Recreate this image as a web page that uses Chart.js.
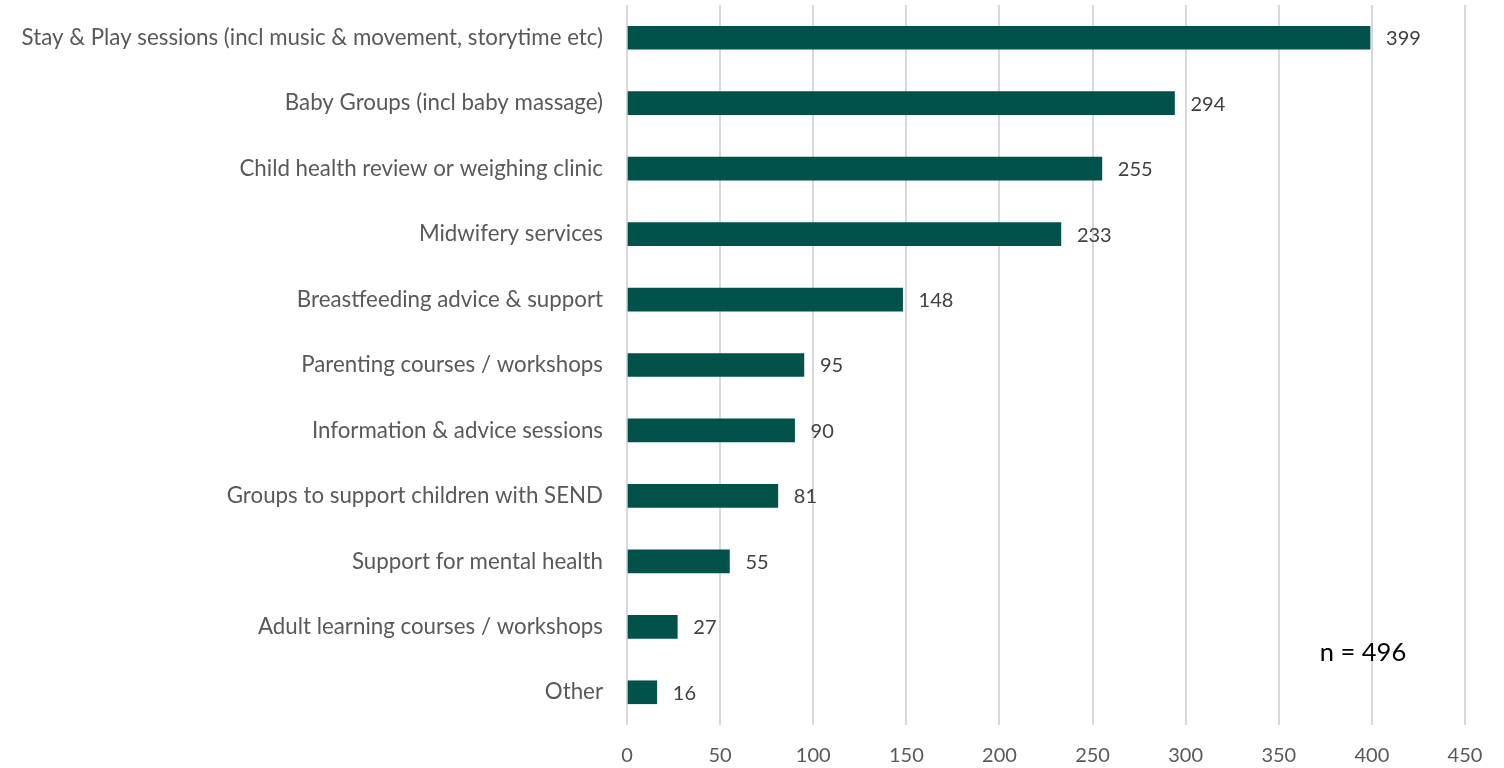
<!DOCTYPE html>
<html>
<head>
<meta charset="utf-8">
<script src="https://cdn.jsdelivr.net/npm/chart.js@4/dist/chart.umd.min.js"></script>
<style>
  html, body { margin: 0; padding: 0; background: #fff; }
  #wrap { width: 1504px; height: 768px; position: relative; }
</style>
</head>
<body>
<div id="wrap"><canvas id="mainChart" width="1504" height="768"></canvas></div>
<script>
// Services used
const categories = [
    'Stay & Play sessions (incl music & movement, storytime etc)',
    'Baby Groups (incl baby massage)',
    'Child health review or weighing clinic',
    'Midwifery services',
    'Breastfeeding advice & support',
    'Parenting courses / workshops',
    'Information & advice sessions',
    'Groups to support children with SEND',
    'Support for mental health',
    'Adult learning courses / workshops',
    'Other'
];
const counts = [399, 294, 255, 233, 148, 95, 90, 81, 55, 27, 16];
const xTicks = [0, 50, 100, 150, 200, 250, 300, 350, 400, 450];
const sampleNote = 'n = 496';

const FONT = "Lato, 'Open Sans', sans-serif";

// value labels at the end of each bar, plus the sample size note
const barLabels = {
    id: 'barLabels',
    afterDatasetsDraw(chart) {
        const { ctx, scales: { x, y } } = chart;
        const meta = chart.getDatasetMeta(0);
        ctx.save();
        ctx.font = '20px ' + FONT;
        ctx.fillStyle = '#404040';
        ctx.textAlign = 'left';
        ctx.textBaseline = 'middle';
        meta.data.forEach((bar, i) => {
            ctx.fillText(String(counts[i]), bar.x + 16, bar.y + 1);
        });
        ctx.font = '25.5px ' + FONT;
        ctx.fillStyle = '#000';
        ctx.fillText(sampleNote, x.getPixelForValue(372), y.getPixelForValue(9.4));
        ctx.restore();
    }
};

new Chart(document.getElementById('mainChart').getContext('2d'), {
    type: 'bar',
    data: {
        labels: categories,
        datasets: [{
            data: counts,
            backgroundColor: '#00524A',
            borderWidth: 0,
            barThickness: 23
        }]
    },
    options: {
        indexAxis: 'y',
        responsive: false,
        animation: false,
        layout: { padding: { top: 5, right: 39, bottom: 0, left: 0 } },
        plugins: { legend: { display: false }, tooltip: { enabled: false } },
        scales: {
            x: {
                min: 0, max: 450,
                afterBuildTicks: (s) => { s.ticks = xTicks.map(v => ({ value: v })); },
                grid: { color: '#d9d9d9', lineWidth: 2, drawTicks: false },
                border: { display: false },
                ticks: { color: '#595959', font: { family: FONT, size: 20 }, padding: 19, maxRotation: 0 },
                afterFit: (s) => { s.height = 43; }
            },
            y: {
                grid: { display: false },
                border: { display: false },
                ticks: { color: '#595959', font: { family: FONT, size: 22.3 }, padding: 16, autoSkip: false },
                afterFit: (s) => { s.width = 627; s.paddingTop = 0; s.paddingBottom = 0; }
            }
        }
    },
    plugins: [barLabels]
});
</script>
</body>
</html>
